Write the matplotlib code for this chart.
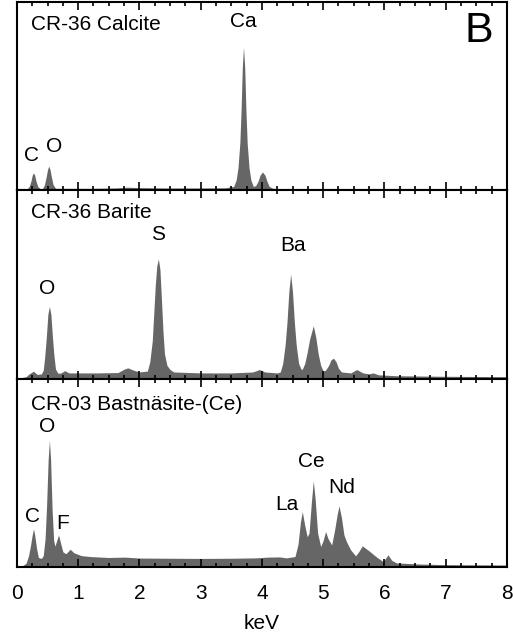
import numpy as np
import matplotlib
matplotlib.use('Agg')
import matplotlib.pyplot as plt
from matplotlib.ticker import MultipleLocator

plt.rcParams['font.family'] = ['Liberation Sans', 'DejaVu Sans']

# spectra (keV, counts on a 0-100 panel scale)
calcite_kev = [0.0, 0.12, 0.17, 0.20, 0.23, 0.25, 0.27, 0.29, 0.31, 0.34, 0.38, 0.42, 0.45, 0.48, 0.50,
               0.52, 0.54, 0.56, 0.59, 0.63, 0.8, 1.2, 1.6, 1.8, 2.0, 2.4, 3.0, 3.4, 3.54, 3.58, 3.61,
               3.64, 3.66, 3.68, 3.70, 3.72, 3.74, 3.76, 3.79, 3.82, 3.86, 3.90, 3.94, 3.97, 4.01, 4.05,
               4.08, 4.12, 4.18, 4.3, 5.0, 6.0, 8.0]
calcite_cts = [0, 0.5, 0.8, 2, 5, 8, 9.2, 8, 5, 2, 0.8, 1, 3, 7.5, 11,
               12.8, 11, 7.5, 3, 1, 1, 1, 1.2, 1.6, 1.4, 1.2, 1.2, 1.3, 2, 5.5, 12,
               25, 42, 65, 76, 65, 42, 25, 12, 5.5, 2, 2.5, 5, 8, 9.7, 8,
               5, 2, 1, 0.9, 0.8, 0.6, 0.5]

barite_kev = [0, 0.15, 0.20, 0.27, 0.33, 0.40, 0.43, 0.455, 0.48, 0.505, 0.53, 0.555, 0.58, 0.605, 0.63,
              0.67, 0.72, 0.78, 0.85, 1.0, 1.3, 1.65, 1.75, 1.81, 1.9, 2.0, 2.13, 2.17, 2.21, 2.235, 2.26,
              2.285, 2.31, 2.335, 2.36, 2.385, 2.41, 2.45, 2.50, 2.56, 3.0, 3.5, 3.85, 3.96, 4.05, 4.25,
              4.30, 4.34, 4.38, 4.41, 4.44, 4.47, 4.50, 4.53, 4.56, 4.60, 4.64, 4.66, 4.70, 4.74, 4.78,
              4.84, 4.88, 4.92, 4.96, 5.00, 5.04, 5.09, 5.13, 5.17, 5.21, 5.25, 5.30, 5.45, 5.55, 5.65,
              5.75, 5.82, 5.9, 6.2, 7.0, 8.0]
barite_cts = [0, 1, 2.5, 3.9, 2.2, 2.5, 4.5, 12, 22, 34, 38.3, 34, 22, 12, 5,
              2.8, 3, 4.2, 3, 3, 3, 3.2, 5, 5.7, 4.5, 3.5, 4, 9, 20, 35, 50,
              60, 63.5, 58, 42, 25, 13, 7, 4.8, 3.5, 3, 3, 3.5, 4.8, 3.5, 3,
              3.5, 8, 18, 30, 46, 55.4, 46, 30, 18, 8, 5, 5, 8, 14, 21,
              28, 22, 13, 7, 4, 4.5, 7, 10, 10.8, 9, 5.5, 3.5, 3, 4.8, 3,
              2.5, 3, 2, 1.5, 1.2, 1]

bast_kev = [0, 0.10, 0.15, 0.19, 0.22, 0.25, 0.27, 0.29, 0.32, 0.35, 0.40, 0.43, 0.46, 0.485, 0.51,
            0.53, 0.55, 0.575, 0.60, 0.62, 0.65, 0.68, 0.71, 0.75, 0.80, 0.87, 0.93, 1.05, 1.2, 1.5,
            1.76, 2.0, 2.5, 3.0, 3.5, 3.9, 4.10, 4.29, 4.40, 4.54, 4.59, 4.63, 4.66, 4.70, 4.74, 4.77,
            4.81, 4.84, 4.87, 4.91, 4.96, 5.00, 5.04, 5.08, 5.14, 5.19, 5.23, 5.26, 5.30, 5.34, 5.38,
            5.45, 5.53, 5.58, 5.64, 5.75, 5.87, 5.98, 6.06, 6.12, 6.2, 6.4, 6.6, 7.0, 8.0]
bast_cts = [0, 0.8, 2, 6, 11, 17, 20.2, 17, 10, 5, 4.5, 6, 15, 33, 57,
            67.2, 57, 30, 14, 11, 14, 17, 13, 8, 7, 9.4, 7.5, 6, 5.5, 5,
            5.2, 4.7, 4.6, 4.5, 4.6, 4.8, 5.2, 5.3, 4.8, 5.5, 12, 24, 29.4, 22, 16, 18,
            35, 45.7, 36, 18, 10.8, 14, 18.8, 15, 11.7, 20, 28, 32.4, 26, 17, 13.5,
            9, 5.9, 8, 11.2, 8.5, 5.3, 2.8, 6.4, 3.5, 2.1, 1.8, 1.5, 1.2, 1.0]

titles = ['CR-36 Calcite', 'CR-36 Barite', 'CR-03 Bastnäsite-(Ce)']

# peak labels per panel: (text, keV, height)
peak_labels = [
    [('C', 0.245, 18.6), ('O', 0.60, 23.4), ('Ca', 3.69, 89.4)],
    [('O', 0.50, 47.6), ('S', 2.30, 76.6), ('Ba', 4.51, 70.4)],
    [('C', 0.26, 26.8), ('O', 0.50, 74.3), ('F', 0.75, 23.2),
     ('La', 4.41, 33.0), ('Ce', 4.81, 56.0), ('Nd', 5.31, 41.9)],
]

spectra = [(calcite_kev, calcite_cts), (barite_kev, barite_cts), (bast_kev, bast_cts)]

fig, axes = plt.subplots(3, 1, figsize=(5.13, 6.32), dpi=100, sharex=True)
fig.subplots_adjust(left=0.033, right=0.988, top=0.997, bottom=0.103, hspace=0)

for i, ax in enumerate(axes):
    x, y = spectra[i]
    ax.fill_between(x, 0, y, color='#666666', lw=0)
    ax.set_xlim(0, 8)
    ax.set_ylim(0, 100)
    ax.set_yticks([])
    ax.xaxis.set_major_locator(MultipleLocator(1))
    ax.xaxis.set_minor_locator(MultipleLocator(0.25))
    ax.tick_params(axis='x', which='both', direction='in', top=True, bottom=True, width=1.2)
    ax.tick_params(axis='x', which='major', length=6)
    ax.tick_params(axis='x', which='minor', length=3)
    for sp in ax.spines.values():
        sp.set_linewidth(1.5)
    ax.text(0.23, 88 if i < 2 else 86.2, titles[i], fontsize=15, ha='left', va='center')
    for lab, kx, ky in peak_labels[i]:
        ax.text(kx, ky, lab, fontsize=15, ha='center', va='center')

axes[0].text(7.55, 84.4, 'B', fontsize=31, ha='center', va='center')
axes[2].tick_params(axis='x', labelsize=15, pad=12)
axes[2].set_xlabel('keV', fontsize=15, labelpad=8)

plt.savefig('out.png', dpi=100)
